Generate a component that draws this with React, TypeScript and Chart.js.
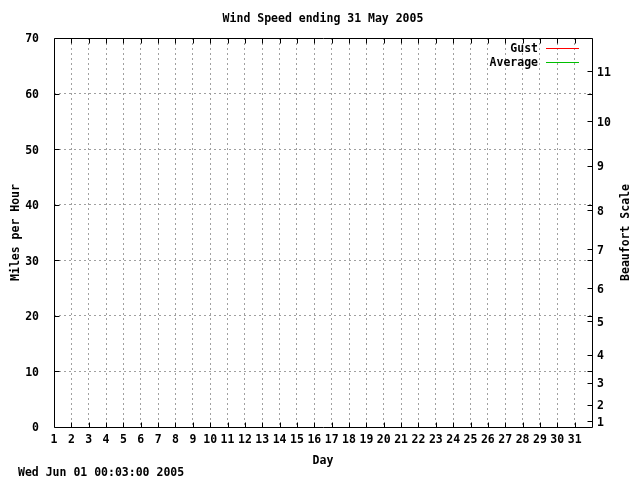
import React, { useEffect, useRef } from "react";
import { Chart, registerables } from "chart.js";

Chart.register(...registerables);

// ---- Data ----
const TITLE = "Wind Speed ending 31 May 2005";
const X_TITLE = "Day";
const Y_TITLE = "Miles per Hour";
const Y2_TITLE = "Beaufort Scale";
const TIMESTAMP = "Wed Jun 01 00:03:00 2005";

const days: number[] = [
  1, 2, 3, 4, 5, 6, 7, 8, 9, 10, 11, 12, 13, 14, 15, 16, 17, 18, 19, 20,
  21, 22, 23, 24, 25, 26, 27, 28, 29, 30, 31,
];
// The reference plot holds no data points for either series.
const gust: number[] = [];
const average: number[] = [];

const seriesNames = ["Gust", "Average"];
const seriesColors = ["#ff0000", "#00c000"];

const mphTicks = [0, 10, 20, 30, 40, 50, 60, 70];
const beaufortMph = [1, 4, 8, 13, 19, 25, 32, 39, 47, 55, 64];
const beaufortLabels = ["1", "2", "3", "4", "5", "6", "7", "8", "9", "10", "11"];

const FONT_FAMILY = '"DejaVu Sans Mono", "Liberation Mono", monospace';
const FONT = `bold 11.5px ${FONT_FAMILY}`;
const GRID_COLOR = "#a0a0a0";

const gnuPlugin = {
  id: "gnuFrame",
  afterDraw(chart: any) {
    const { ctx, chartArea: a, scales } = chart;
    const xS = scales.x;
    const yS = scales.y;
    const y2S = scales.y2;
    const L = Math.round(a.left) + 0.5;
    const R = Math.round(a.right) + 0.5;
    const T = Math.round(a.top) + 0.5;
    const B = Math.round(a.bottom) + 0.5;
    const TL = 5;

    ctx.save();
    ctx.strokeStyle = "#000";
    ctx.lineWidth = 1;
    ctx.setLineDash([]);
    ctx.beginPath();
    ctx.rect(L, T, R - L, B - T);
    // x ticks (bottom + mirrored top), inward
    for (const d of days) {
      if (d === days[0]) continue;
      const px = Math.round(xS.getPixelForValue(d)) + 0.5;
      ctx.moveTo(px, B);
      ctx.lineTo(px, B - TL);
      ctx.moveTo(px, T);
      ctx.lineTo(px, T + TL);
    }
    // y ticks (left + mirrored right)
    for (const v of mphTicks) {
      if (v === mphTicks[0] || v === mphTicks[mphTicks.length - 1]) continue;
      const py = Math.round(yS.getPixelForValue(v)) + 0.5;
      ctx.moveTo(L, py);
      ctx.lineTo(L + TL, py);
      ctx.moveTo(R, py);
      ctx.lineTo(R - TL, py);
    }
    // y2 Beaufort ticks
    for (const v of beaufortMph) {
      const py = Math.round(y2S.getPixelForValue(v)) + 0.5;
      ctx.moveTo(R, py);
      ctx.lineTo(R - TL, py);
    }
    ctx.stroke();

    // texts
    ctx.fillStyle = "#000";
    ctx.font = FONT;
    ctx.textBaseline = "middle";
    const cx = (a.left + a.right) / 2;
    const cy = (a.top + a.bottom) / 2;
    ctx.textAlign = "center";
    ctx.fillText(TITLE, cx, 19);
    ctx.fillText(X_TITLE, cx, 461);
    ctx.textAlign = "left";
    ctx.fillText(TIMESTAMP, 18, 473);

    ctx.save();
    ctx.translate(16, cy);
    ctx.rotate(-Math.PI / 2);
    ctx.textAlign = "center";
    ctx.fillText(Y_TITLE, 0, 0);
    ctx.restore();

    ctx.save();
    ctx.translate(626, cy);
    ctx.rotate(-Math.PI / 2);
    ctx.textAlign = "center";
    ctx.fillText(Y2_TITLE, 0, 0);
    ctx.restore();

    // legend
    chart.data.datasets.forEach((ds: any, i: number) => {
      const ly = Math.round(a.top + 10 + i * 14) + 0.5;
      ctx.textAlign = "right";
      ctx.fillStyle = "#000";
      ctx.fillText(ds.label, a.right - 54, ly + 1);
      ctx.strokeStyle = ds.borderColor;
      ctx.beginPath();
      ctx.moveTo(a.right - 46, ly);
      ctx.lineTo(a.right - 13, ly);
      ctx.stroke();
    });
    ctx.restore();
  },
};

export default function App() {
  const ref = useRef<HTMLCanvasElement | null>(null);

  useEffect(() => {
    if (!ref.current) return;
    const tickFont = { family: FONT_FAMILY, size: 11.5, weight: "bold" as const };
    const chart = new Chart(ref.current, {
      type: "line",
      data: {
        datasets: [
          {
            label: seriesNames[0],
            data: gust.map((v, i) => ({ x: days[i], y: v })),
            borderColor: seriesColors[0],
            borderWidth: 1,
            pointRadius: 0,
            yAxisID: "y",
          },
          {
            label: seriesNames[1],
            data: average.map((v, i) => ({ x: days[i], y: v })),
            borderColor: seriesColors[1],
            borderWidth: 1,
            pointRadius: 0,
            yAxisID: "y",
          },
        ],
      },
      options: {
        animation: false,
        responsive: false,
        devicePixelRatio: 1,
        layout: { padding: { top: 38, left: 0, right: 0, bottom: 0 } },
        plugins: {
          legend: { display: false },
          title: { display: false },
          tooltip: { enabled: false },
        },
        scales: {
          x: {
            type: "linear",
            min: 1,
            max: 32,
            afterFit: (s: any) => {
              s.height = 53;
            },
            ticks: {
              stepSize: 1,
              autoSkip: false,
              maxRotation: 0,
              padding: 6,
              color: "#000",
              font: tickFont,
              callback: (v: any) => (v >= days[0] && v <= days[days.length - 1] ? String(v) : ""),
            },
            grid: { color: GRID_COLOR, drawTicks: false, lineWidth: 1 },
            border: { display: false, dash: [2, 3] },
          },
          y: {
            type: "linear",
            position: "left",
            min: mphTicks[0],
            max: mphTicks[mphTicks.length - 1],
            afterFit: (s: any) => {
              s.width = 54;
            },
            ticks: {
              stepSize: 10,
              padding: 15,
              labelOffset: 1.5,
              color: "#000",
              font: tickFont,
            },
            grid: { color: GRID_COLOR, drawTicks: false, lineWidth: 1 },
            border: { display: false, dash: [2, 3] },
          },
          y2: {
            type: "linear",
            position: "right",
            min: mphTicks[0],
            max: mphTicks[mphTicks.length - 1],
            afterFit: (s: any) => {
              s.width = 48;
            },
            afterBuildTicks: (s: any) => {
              s.ticks = beaufortMph.map((v) => ({ value: v }));
            },
            ticks: {
              autoSkip: false,
              padding: 5,
              labelOffset: 1.5,
              color: "#000",
              font: tickFont,
              callback: (_v: any, i: number) => beaufortLabels[i],
            },
            grid: { display: false, drawOnChartArea: false, drawTicks: false },
            border: { display: false },
          },
        },
      },
      plugins: [gnuPlugin],
    });
    return () => chart.destroy();
  }, []);

  return (
    <div style={{ position: "absolute", left: 0, top: 0, width: 640, height: 480, background: "#fff" }}>
      <canvas ref={ref} width={640} height={480} />
    </div>
  );
}
